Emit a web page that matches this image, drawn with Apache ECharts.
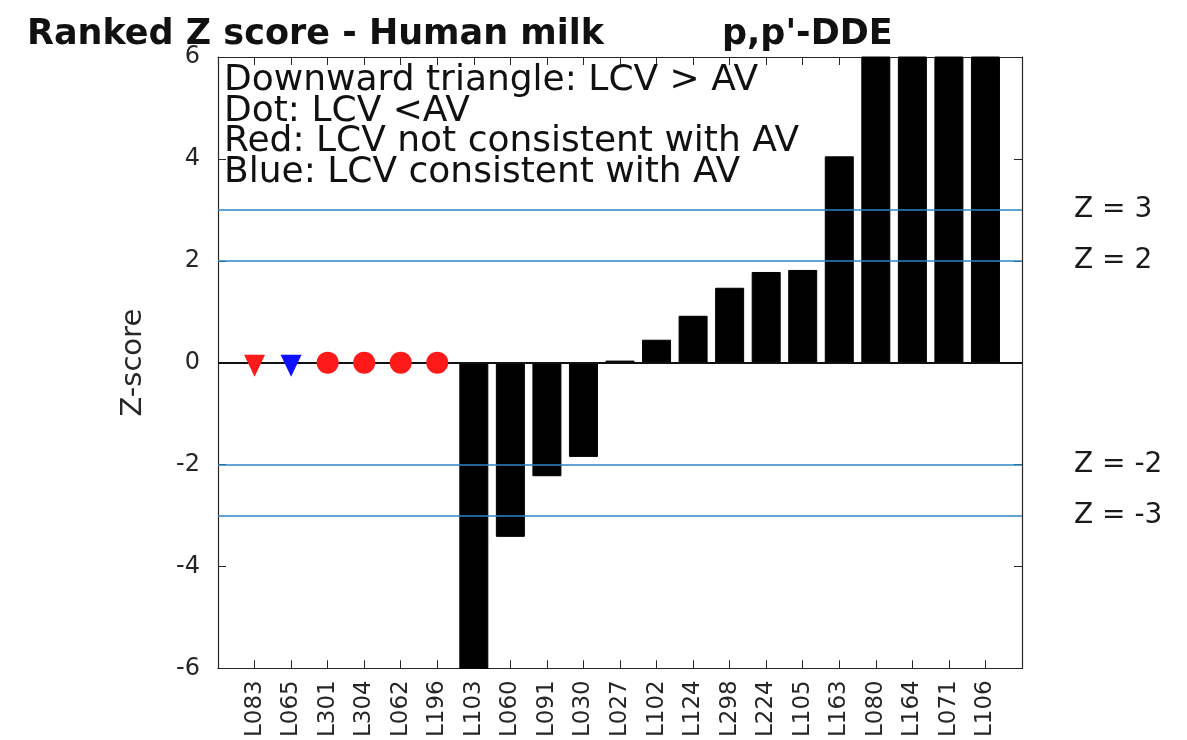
<!DOCTYPE html>
<html><head><meta charset="utf-8">
<script src="https://cdn.jsdelivr.net/npm/echarts@6/dist/echarts.min.js"></script>
<style>html,body{margin:0;padding:0;background:#fff}#c{width:1187px;height:740px}</style>
</head><body><div id="c"></div>
<script>
// ---- data ----
const categories = ['L083','L065','L301','L304','L062','L196','L103','L060','L091','L030','L027','L102','L124','L298','L224','L105','L163','L080','L164','L071','L106'];
const zScores = [null,null,null,null,null,null,-7.5,-3.42,-2.23,-1.85,0.04,0.45,0.92,1.47,1.78,1.82,4.05,8.0,11.0,14.0,19.0];
const redTriangleLabs = ['L083'];
const blueTriangleLabs = ['L065'];
const redDotLabs = ['L301','L304','L062','L196'];
const refLevels = [3, 2, -2, -3];
const refLabels = ['Z = 3', 'Z = 2', 'Z = -2', 'Z = -3'];
const yMin = -6, yMax = 6, yStep = 2;
const titleMain = 'Ranked Z score - Human milk';
const titleCompound = "p,p'-DDE";
const yName = 'Z-score';
const notes = ['Downward triangle: LCV > AV', 'Dot: LCV <AV', 'Red: LCV not consistent with AV', 'Blue: LCV consistent with AV'];

// ---- chart ----
const FONT = 'DejaVu Sans';
const FRAME = '#262626';
const axisCats = [''].concat(categories, ['']);
const barData = [null].concat(zScores, [null]);
const pts = labs => labs.map(l => [l, 0]);

const chart = echarts.init(document.getElementById('c'), null, {renderer: 'canvas'});
const grid = {left: 218, right: 165, top: 57, bottom: 69};

const refMark = {
  silent: true, symbol: 'none', animation: false,
  data: refLevels.map((v, i) => ({
    yAxis: v,
    lineStyle: {color: '#2a86c6', width: 1.6, type: 'solid'},
    label: {show: true, position: 'end', distance: 52, formatter: refLabels[i],
      fontFamily: FONT, fontSize: 28, color: '#1a1a1a'}
  })).concat([{yAxis: 0, lineStyle: {color: '#111', width: 2, type: 'solid'}, label: {show: false}}])
};

const lineSt = {color: FRAME, width: 1.2};
chart.setOption({
  backgroundColor: '#fff',
  animation: false,
  title: [
    {text: titleMain, left: 22, top: 12, textStyle: {fontFamily: FONT, fontWeight: 'bold', fontSize: 35, color: '#111', lineHeight: 35}},
    {text: titleCompound, left: 717, top: 12, textStyle: {fontFamily: FONT, fontWeight: 'bold', fontSize: 35, color: '#111', lineHeight: 35}}
  ],
  grid: grid,
  xAxis: [
    {type: 'category', data: axisCats, boundaryGap: false, position: 'bottom',
     axisLine: {show: true, onZero: false, lineStyle: lineSt},
     axisTick: {show: true, inside: true, length: 8, lineStyle: {color: FRAME}},
     axisLabel: {rotate: 90, margin: 12, fontFamily: FONT, fontSize: 23, color: '#262626', interval: 0},
     splitLine: {show: false}},
    {type: 'category', data: axisCats, boundaryGap: false, position: 'top',
     axisLine: {show: true, onZero: false, lineStyle: lineSt},
     axisTick: {show: true, inside: true, length: 8, lineStyle: {color: FRAME}},
     axisLabel: {show: false}, splitLine: {show: false}}
  ],
  yAxis: [
    {type: 'value', min: yMin, max: yMax, interval: yStep, position: 'left',
     name: yName, nameLocation: 'middle', nameGap: 70, nameRotate: 90,
     nameTextStyle: {fontFamily: FONT, fontSize: 29, color: '#262626'},
     axisLine: {show: true, onZero: false, lineStyle: lineSt},
     axisTick: {show: true, inside: true, length: 8, lineStyle: {color: FRAME}},
     axisLabel: {margin: 18, fontFamily: FONT, fontSize: 24, color: '#262626'},
     splitLine: {show: false}},
    {type: 'value', min: yMin, max: yMax, interval: yStep, position: 'right',
     axisLine: {show: true, onZero: false, lineStyle: lineSt},
     axisTick: {show: true, inside: true, length: 8, lineStyle: {color: FRAME}},
     axisLabel: {show: false}, splitLine: {show: false}}
  ],
  graphic: [{
    type: 'text', left: 224, top: 63, z: 10,
    style: {text: notes.join('\n'), font: '36px "DejaVu Sans"', lineHeight: 30.5, fill: '#111'}
  }],
  series: [
    {type: 'bar', data: barData, barWidth: 29, clip: true,
     itemStyle: {color: '#000', borderColor: '#000', borderWidth: 1},
     markLine: refMark, z: 2},
    {type: 'scatter', data: pts(redTriangleLabs), symbol: 'triangle', symbolRotate: 180,
     symbolSize: [21, 22], symbolOffset: [0, 3], itemStyle: {color: '#ff1a1a', opacity: 1}, z: 5},
    {type: 'scatter', data: pts(blueTriangleLabs), symbol: 'triangle', symbolRotate: 180,
     symbolSize: [21, 22], symbolOffset: [0, 3], itemStyle: {color: '#1010ff', opacity: 1}, z: 5},
    {type: 'scatter', data: pts(redDotLabs), symbol: 'circle', symbolSize: 22,
     itemStyle: {color: '#ff1a1a', opacity: 1}, z: 5}
  ]
});
</script>
</body></html>
